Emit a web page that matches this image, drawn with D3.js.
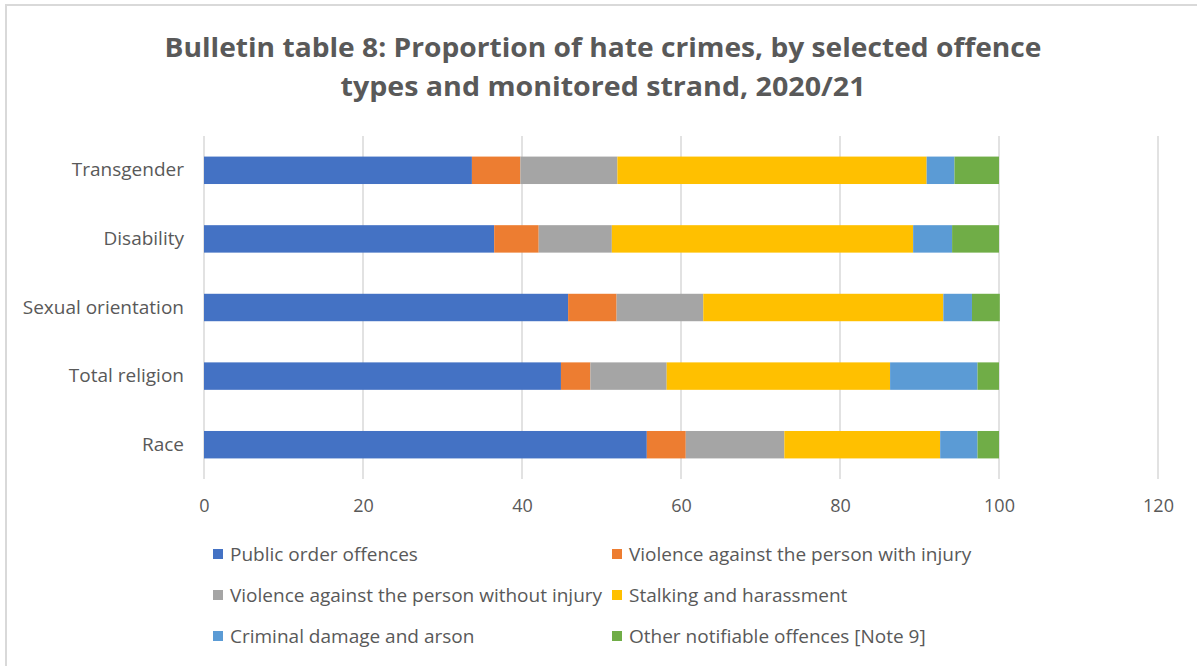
<!DOCTYPE html>
<html>
<head>
<meta charset="utf-8">
<script src="https://cdn.jsdelivr.net/npm/d3@7"></script>
<style>
  html, body { margin: 0; padding: 0; background: #fff; }
  svg { display: block; font-family: "Open Sans", Lato, sans-serif; }
</style>
</head>
<body>
<svg id="chart" width="1197" height="666"></svg>
<script>
// Monitored strands (top to bottom as drawn)
const categories = ["Transgender", "Disability", "Sexual orientation", "Total religion", "Race"];

// Offence types (stack order, left to right)
const seriesNames = [
  "Public order offences",
  "Violence against the person with injury",
  "Violence against the person without injury",
  "Stalking and harassment",
  "Criminal damage and arson",
  "Other notifiable offences [Note 9]"
];

// Percentages per strand, in category order
const publicOrder     = [33.7, 36.5, 45.8, 44.9, 55.7];
const vapWithInjury   = [6.1,  5.6,  6.1,  3.7,  4.9];
const vapWithoutInjury= [12.2, 9.2,  10.9, 9.6,  12.4];
const stalking        = [38.9, 37.9, 30.2, 28.1, 19.6];
const criminalDamage  = [3.5,  4.9,  3.6,  11.0, 4.7];
const otherOffences   = [5.6,  5.9,  3.5,  2.7,  2.7];

const xTicks = [0, 20, 40, 60, 80, 100, 120];
const colors = ["#4472c4", "#ed7d31", "#a5a5a5", "#ffc000", "#5b9bd5", "#70ad47"];

const seriesValues = [publicOrder, vapWithInjury, vapWithoutInjury, stalking, criminalDamage, otherOffences];
const rows = categories.map((c, i) => {
  const r = { category: c };
  seriesNames.forEach((s, k) => { r[s] = seriesValues[k][i]; });
  return r;
});

const svg = d3.select("#chart");
const textColor = "#595959";
const gridColor = "#d9d9d9";
const font = "'Open Sans', Lato, sans-serif";

// chart frame edges
svg.append("line").attr("x1", 5).attr("x2", 1197).attr("y1", 5).attr("y2", 5)
  .attr("stroke", gridColor).attr("stroke-width", 2);
svg.append("line").attr("x1", 6).attr("x2", 6).attr("y1", 5).attr("y2", 666)
  .attr("stroke", gridColor).attr("stroke-width", 2);

// Title, two centred lines
const titleLines = [
  { text: "Bulletin table 8: Proportion of hate crimes, by selected offence", y: 57, width: 877 },
  { text: "types and monitored strand, 2020/21", y: 96, width: 525 }
];
svg.append("g")
  .selectAll("text")
  .data(titleLines)
  .join("text")
  .attr("x", 603)
  .attr("y", d => d.y)
  .attr("text-anchor", "middle")
  .attr("fill", textColor)
  .attr("font-weight", "bold")
  .attr("font-size", 27)
  .attr("textLength", d => d.width)
  .attr("lengthAdjust", "spacingAndGlyphs")
  .text(d => d.text);

const plot = { left: 204, right: 1158, top: 136, bottom: 479 };

const x = d3.scaleLinear().domain([0, 120]).range([plot.left, plot.right]);
const y = d3.scaleBand().domain(categories).range([plot.top, plot.bottom])
  .paddingInner(0.6).paddingOuter(0.3);

// Vertical gridlines
svg.append("g")
  .selectAll("line")
  .data(xTicks)
  .join("line")
  .attr("x1", d => x(d)).attr("x2", d => x(d))
  .attr("y1", plot.top).attr("y2", plot.bottom)
  .attr("stroke", gridColor).attr("stroke-width", 1.5);

// X axis tick labels
const xAxis = d3.axisBottom(x).tickValues(xTicks).tickSize(0).tickPadding(0);
const gx = svg.append("g").attr("transform", `translate(0,${plot.bottom + 20})`).call(xAxis);
gx.select(".domain").remove();
gx.selectAll("text").attr("fill", textColor).attr("font-size", 18)
  .attr("font-family", font);

// Y axis category labels
const yAxis = d3.axisLeft(y).tickSize(0).tickPadding(20);
const gy = svg.append("g").attr("transform", `translate(${plot.left},0)`).call(yAxis);
gy.select(".domain").remove();
gy.selectAll("text").attr("fill", textColor).attr("font-size", 19)
  .attr("font-family", font);

// Stacked bars
const stack = d3.stack().keys(seriesNames);
const layers = stack(rows);
svg.append("g")
  .selectAll("g")
  .data(layers)
  .join("g")
  .attr("fill", (d, i) => colors[i])
  .selectAll("rect")
  .data(d => d)
  .join("rect")
  .attr("x", d => x(d[0]))
  .attr("width", d => x(d[1]) - x(d[0]))
  .attr("y", d => y(d.data.category))
  .attr("height", y.bandwidth());

// Legend: two columns, three rows
const legendCols = [213, 612];
const legendRows = [554, 595, 636];
const legend = svg.append("g")
  .selectAll("g")
  .data(seriesNames)
  .join("g")
  .attr("transform", (d, i) => `translate(${legendCols[i % 2]},${legendRows[Math.floor(i / 2)]})`);
legend.append("rect")
  .attr("x", 0).attr("y", -5).attr("width", 10).attr("height", 10)
  .attr("fill", (d, i) => colors[i]);
legend.append("text")
  .attr("x", 17).attr("y", 6.5)
  .attr("fill", textColor).attr("font-size", 19)
  .text(d => d);
</script>
</body>
</html>
